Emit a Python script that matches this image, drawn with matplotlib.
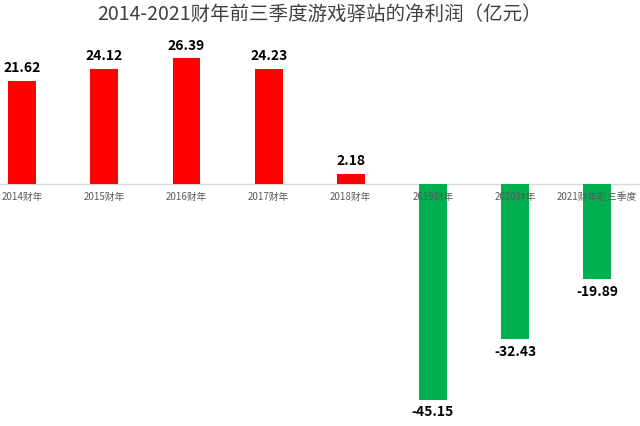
import matplotlib.pyplot as plt
import numpy as np

plt.rcParams['font.family'] = ['Noto Sans CJK SC', 'DejaVu Sans']

years = ["2014财年", "2015财年", "2016财年", "2017财年", "2018财年",
         "2019财年", "2020财年", "2021财年前三季度"]
profit = [21.62, 24.12, 26.39, 24.23, 2.18, -45.15, -32.43, -19.89]

x = np.arange(len(years))
colors = ["#ff0000" if v >= 0 else "#00b050" for v in profit]

fig = plt.figure(figsize=(6.4, 4.26), dpi=100)
ax = fig.add_axes([0, 0, 1, 1])
ax.bar(x, profit, width=0.34, color=colors, zorder=2)
ax.axhline(0, color="#d9d9d9", lw=1, zorder=1)
ax.set_xlim(-0.27, 7.52)
ax.set_ylim(-50.7, 38.6)
ax.axis("off")

for i, v in enumerate(profit):
    if v >= 0:
        ax.text(i, v + 1.2, f"{v:.2f}", ha="center", va="bottom",
                fontsize=10, fontweight="bold", color="black")
    else:
        ax.text(i, v - 1.2, f"{v:.2f}", ha="center", va="top",
                fontsize=10, fontweight="bold", color="black")
    ax.text(i, -1.6, years[i], ha="center", va="top", fontsize=7,
            color="#595959", zorder=3)

fig.text(0.5, 0.965, "2014-2021财年前三季度游戏驿站的净利润（亿元）",
         ha="center", va="center", fontsize=14, color="#404040")

fig.savefig("out.png", dpi=100)
